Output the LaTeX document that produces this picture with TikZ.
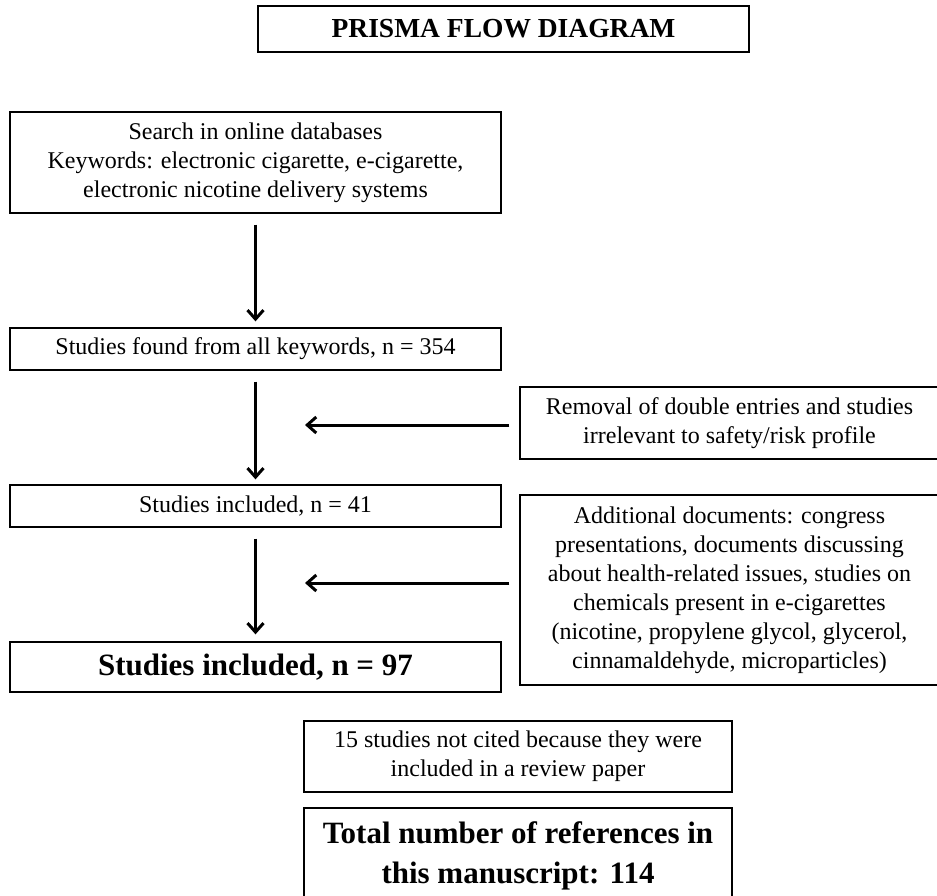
\documentclass[tikz,border=0pt]{standalone}
\usepackage{fontspec}
\setmainfont{Liberation Serif}
\usepackage{tikz}
\usetikzlibrary{arrows.meta}
\usetikzlibrary{positioning}

\begin{document}
\begin{tikzpicture}[x=1pt,y=-1pt,
box/.style={draw, line width=1.3pt, rectangle, align=center, inner sep=0pt,
font=\fontsize{24}{29}\selectfont},
bigbox/.style={box, font=\bfseries\fontsize{31}{40}\selectfont},
flow/.style={line width=3pt, -{Straight Barb[length=9pt,width=16pt,line width=3pt]}}]
\useasboundingbox (0,0) rectangle (937,895);
\node [box, font=\bfseries\fontsize{27.5}{30}\selectfont, minimum width=491pt, minimum height=46pt] (title) at (503.5,29) {PRISMA FLOW DIAGRAM};
\node [box, minimum width=491pt, minimum height=101pt] (search) at (255.5,162.5)
{Search in online databases\\Keywords: electronic cigarette, e-cigarette,\\electronic nicotine delivery systems};
\node [box, minimum width=491pt, minimum height=42pt] (found) at (255.5,349) {Studies found from all keywords, n = 354};
\node [box, minimum width=491pt, minimum height=42pt] (incl) at (255.5,506) {Studies included, n = 41};
\node [bigbox, minimum width=491pt, minimum height=50pt] (final) at (255.5,667) {Studies included, n = 97};
\node [box, minimum width=419pt, minimum height=72pt] (removal) at (729.5,423)
{Removal of double entries and studies\\irrelevant to safety/risk profile};
\node [box, minimum width=419pt, minimum height=190pt] (extra) at (729.5,590)
{Additional documents: congress\\presentations, documents discussing\\about health-related issues, studies on\\chemicals present in e-cigarettes\\(nicotine, propylene glycol, glycerol,\\cinnamaldehyde, microparticles)};
\node [box, minimum width=428pt, minimum height=71pt] (notcited) at (518,756.5)
{15 studies not cited because they were\\included in a review paper};
\node [bigbox, minimum width=428pt, minimum height=96pt] (total) at (518,856)
{Total number of references in\\this manuscript: 114};
\coordinate (r1) at (305,425);
\coordinate (r2) at (305,583);
\draw [flow, shorten <=11pt, shorten >=6pt] (search) -- (found);
\draw [flow, shorten <=11pt, shorten >=5pt] (found) -- (incl);
\draw [flow, shorten <=11pt, shorten >=7pt] (incl) -- (final);
\draw [flow, shorten <=10pt] (removal.west |- r1) -- (r1);
\draw [flow, shorten <=10pt] (extra.west |- r2) -- (r2);
\end{tikzpicture}
\end{document}
